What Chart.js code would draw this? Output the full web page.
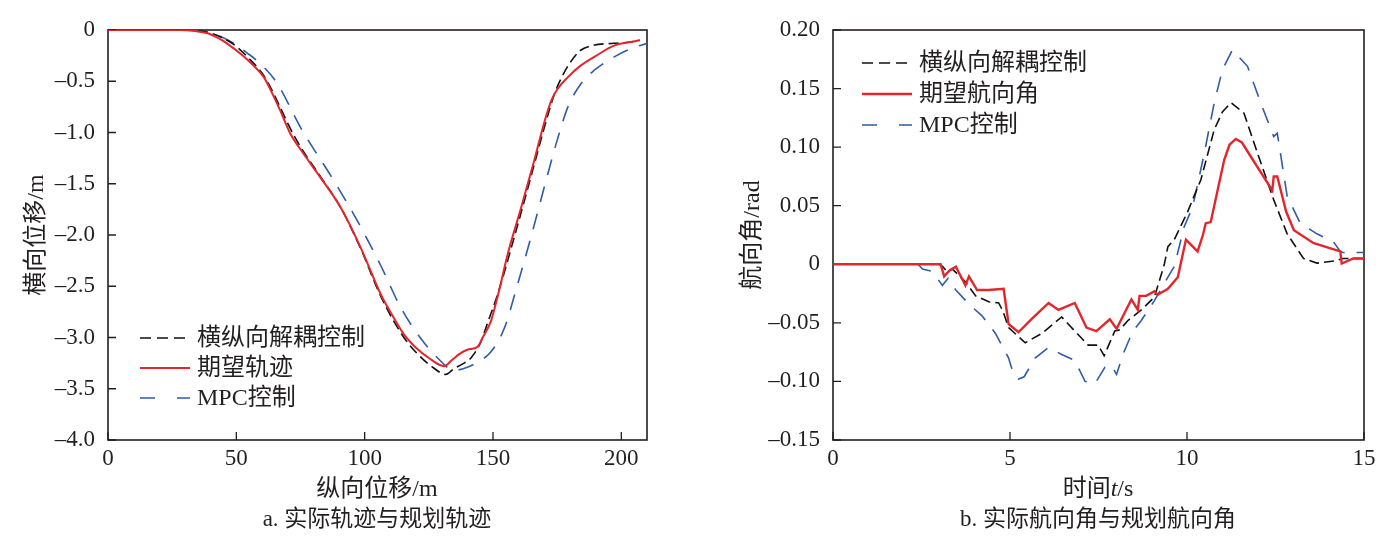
<!DOCTYPE html>
<html>
<head>
<meta charset="utf-8">
<script src="https://cdn.jsdelivr.net/npm/chart.js@4.4.1/dist/chart.umd.min.js"></script>
<style>
  body { margin: 0; background: #fff; width: 1391px; height: 543px; position: relative; overflow: hidden; }
  .box { position: absolute; top: 0; height: 543px; }
  .txt { position: absolute; font-family: "Liberation Serif", "Noto Sans CJK SC", serif; color: #231f20; white-space: nowrap; transform: translateX(-50%); }
</style>
</head>
<body>
<div class="box" style="left:0;width:700px"><canvas id="trackChart"></canvas></div>
<div class="box" style="left:700px;width:691px"><canvas id="headingChart"></canvas></div>
<div class="txt" style="left:377px;top:468px;font-size:24px">纵向位移/m</div>
<div class="txt" style="left:377px;top:499px;font-size:23px">a. 实际轨迹与规划轨迹</div>
<div class="txt" style="left:1098px;top:468px;font-size:24px">时间<i>t</i>/s</div>
<div class="txt" style="left:1098px;top:499px;font-size:23px">b. 实际航向角与规划航向角</div>
<script>
const SERIF = '"Liberation Serif", "Noto Sans CJK SC", serif';
const INK = '#231f20';

// 图a：轨迹 (纵向位移 m, 横向位移 m)
const trackX_dec = [0, 20, 30, 36, 40, 45, 50, 55, 60, 63.3, 67, 71, 75, 82.8, 90.6, 98.4, 106.3, 115.3, 121, 126, 131.6, 135, 138, 141.4, 145.3, 148, 151.8, 158.3, 166.1, 170, 174, 177, 180, 184, 189, 197, 203, 207.2];
const trackY_dec = [0, 0, 0, -0.01, -0.03, -0.08, -0.16, -0.28, -0.42, -0.56, -0.75, -0.96, -1.14, -1.43, -1.73, -2.13, -2.6, -3.0, -3.17, -3.28, -3.36, -3.3, -3.26, -3.2, -3.04, -2.85, -2.58, -2.02, -1.31, -0.95, -0.62, -0.45, -0.32, -0.2, -0.15, -0.13, -0.12, -0.10];

const trackX_ref = [0, 10, 20, 28, 34, 38.5, 43, 46.3, 52, 56, 60.7, 64.6, 67, 71, 76, 82.8, 90.6, 98.4, 106.3, 110, 115.3, 120, 125, 131, 134, 137, 140, 144, 146, 149.2, 152, 155.7, 161, 166.1, 170, 172.7, 175, 179.2, 184, 189.6, 197.4, 203, 207.2];
const trackY_ref = [0, 0, 0, 0, -0.01, -0.03, -0.08, -0.13, -0.24, -0.33, -0.46, -0.65, -0.78, -1.01, -1.2, -1.44, -1.73, -2.12, -2.58, -2.75, -2.97, -3.1, -3.2, -3.28, -3.22, -3.16, -3.12, -3.09, -3.0, -2.84, -2.58, -2.19, -1.73, -1.27, -0.9, -0.69, -0.58, -0.46, -0.35, -0.26, -0.15, -0.12, -0.10];

const trackX_mpc = [0, 20, 30, 36, 42.4, 49, 54, 59.4, 65.9, 75, 88, 97.1, 106.3, 114.1, 121.9, 128.4, 134.9, 140, 144, 149.2, 154.4, 159.6, 164.8, 171.4, 175.3, 179.2, 184.4, 189.6, 197.4, 204, 210];
const trackY_mpc = [0, 0, 0, -0.01, -0.05, -0.13, -0.22, -0.33, -0.52, -0.95, -1.47, -1.86, -2.3, -2.71, -3.01, -3.2, -3.32, -3.29, -3.24, -3.14, -2.91, -2.48, -2.02, -1.4, -1.05, -0.75, -0.52, -0.39, -0.26, -0.18, -0.13];

const trackXTicks = [0, 50, 100, 150, 200];
const trackYTicks = [-4, -3.5, -3, -2.5, -2, -1.5, -1, -0.5, 0];
const trackYLabels = ['–4.0', '–3.5', '–3.0', '–2.5', '–2.0', '–1.5', '–1.0', '–0.5', '0'];

// 图b：航向角 (时间 s, rad)
const headT_dec = [0, 1, 2, 3.0, 3.1, 3.23, 3.37, 3.74, 4.03, 4.40, 4.68, 4.8, 4.96, 5.43, 5.9, 6.46, 6.83, 7.21, 7.49, 7.66, 7.96, 8.1, 8.33, 8.71, 9.08, 9.36, 9.46, 9.64, 10.02, 10.39, 10.77, 11.0, 11.24, 11.61, 11.99, 12.45, 12.83, 13.29, 13.67, 14.2, 14.4, 15];
const headV_dec = [0, 0, 0, 0, -0.002, -0.0066, -0.004, -0.015, -0.027, -0.032, -0.033, -0.04, -0.054, -0.067, -0.059, -0.045, -0.057, -0.069, -0.069, -0.078, -0.057, -0.056, -0.048, -0.039, -0.028, 0.0, 0.015, 0.021, 0.045, 0.072, 0.115, 0.13, 0.138, 0.129, 0.095, 0.055, 0.026, 0.005, 0.001, 0.003, 0.005, 0.005];

const headT_ref = [0, 1, 2, 3.04, 3.14, 3.3, 3.47, 3.74, 3.84, 4.07, 4.40, 4.82, 4.96, 5.24, 5.6, 6.09, 6.37, 6.83, 7.16, 7.44, 7.82, 8.01, 8.43, 8.61, 8.66, 8.85, 9.08, 9.17, 9.46, 9.74, 9.97, 10.3, 10.45, 10.53, 10.67, 11.05, 11.2, 11.38, 11.55, 11.8, 12.41, 12.45, 12.55, 12.8, 13.02, 13.58, 14.33, 14.37, 14.7, 15];
const headV_ref = [0, 0, 0, 0, -0.0103, -0.005, -0.002, -0.018, -0.0103, -0.022, -0.022, -0.021, -0.051, -0.058, -0.047, -0.033, -0.039, -0.033, -0.054, -0.057, -0.047, -0.055, -0.030, -0.039, -0.027, -0.027, -0.023, -0.026, -0.021, -0.011, 0.021, 0.011, 0.025, 0.035, 0.036, 0.089, 0.102, 0.107, 0.104, 0.092, 0.063, 0.075, 0.075, 0.045, 0.029, 0.018, 0.011, 0.0006, 0.005, 0.005];

const headT_mpc = [0, 1, 2, 2.4, 2.53, 2.8, 3.09, 3.25, 3.47, 3.84, 4.21, 4.59, 4.96, 5.1, 5.24, 5.4, 5.71, 6.09, 6.46, 6.83, 7.12, 7.4, 7.68, 7.85, 8.01, 8.19, 8.47, 8.71, 9.08, 9.46, 9.64, 9.92, 10.16, 10.49, 10.77, 11.0, 11.28, 11.71, 12.08, 12.45, 12.55, 12.83, 13.2, 13.67, 14.14, 14.33, 14.4, 15];
const headV_mpc = [0, 0, 0, 0, -0.004, -0.006, -0.018, -0.012, -0.022, -0.034, -0.044, -0.059, -0.08, -0.094, -0.098, -0.096, -0.08, -0.071, -0.077, -0.082, -0.1, -0.102, -0.088, -0.086, -0.094, -0.077, -0.057, -0.048, -0.031, -0.011, -0.002, 0.032, 0.049, 0.095, 0.138, 0.166, 0.183, 0.169, 0.138, 0.109, 0.112, 0.058, 0.035, 0.026, 0.019, 0.011, 0.01, 0.01];

const headXTicks = [0, 5, 10, 15];
const headYTicks = [-0.15, -0.10, -0.05, 0, 0.05, 0.10, 0.15, 0.20];
const headYLabels = ['–0.15', '–0.10', '–0.05', '0', '0.05', '0.10', '0.15', '0.20'];

const pts = (xs, ys) => xs.map((x, i) => ({ x: x, y: ys[i] }));

// 框线 + 向内刻度
const frameTicks = {
  id: 'frameTicks',
  beforeDatasetsDraw(chart) {
    const { ctx, chartArea: a, scales } = chart;
    ctx.save();
    ctx.strokeStyle = INK;
    ctx.lineWidth = 1.6;
    ctx.strokeRect(a.left, a.top, a.right - a.left, a.bottom - a.top);
    ctx.lineWidth = 1.3;
    ctx.beginPath();
    scales.x.ticks.forEach(t => {
      const px = scales.x.getPixelForValue(t.value);
      ctx.moveTo(px, a.bottom); ctx.lineTo(px, a.bottom - 8);
    });
    scales.y.ticks.forEach(t => {
      const py = scales.y.getPixelForValue(t.value);
      ctx.moveTo(a.left, py); ctx.lineTo(a.left + 8, py);
    });
    ctx.stroke();
    ctx.restore();
  }
};

// 图内图例
const innerLegend = {
  id: 'innerLegend',
  afterDatasetsDraw(chart, args, opts) {
    const ctx = chart.ctx;
    ctx.save();
    chart.data.datasets.forEach((ds, i) => {
      const y = opts.y + i * opts.gap;
      ctx.beginPath();
      ctx.setLineDash(opts.dashes[i]);
      ctx.strokeStyle = ds.borderColor;
      ctx.lineWidth = ds.borderWidth;
      ctx.moveTo(opts.x, y);
      ctx.lineTo(opts.x + 50, y);
      ctx.stroke();
      ctx.setLineDash([]);
      ctx.fillStyle = INK;
      ctx.font = '24px ' + SERIF;
      ctx.textBaseline = 'middle';
      ctx.fillText(ds.label, opts.x + 57, y + 1);
    });
    ctx.restore();
  }
};

function makeChart(id, sets, xr, yr, axisW, titleY, titlePad, rightPad, legendPos, smooth) {
  return new Chart(document.getElementById(id), {
    type: 'line',
    data: { datasets: sets },
    options: {
      responsive: true,
      maintainAspectRatio: false,
      animation: false,
      layout: { padding: { top: 30, right: rightPad, bottom: 0, left: 0 } },
      elements: {
        point: { radius: 0 },
        line: { cubicInterpolationMode: smooth ? 'monotone' : 'default', tension: 0 }
      },
      scales: {
        x: {
          type: 'linear', min: xr.min, max: xr.max,
          grid: { display: false }, border: { display: false },
          afterBuildTicks: s => { s.ticks = xr.ticks.map(v => ({ value: v })); },
          afterFit: s => { s.height = 103; },
          ticks: { color: INK, padding: -3, maxRotation: 0, font: { family: SERIF, size: 23 } }
        },
        y: {
          type: 'linear', min: yr.min, max: yr.max,
          grid: { display: false }, border: { display: false },
          afterBuildTicks: s => { s.ticks = yr.ticks.map(v => ({ value: v })); },
          afterFit: s => { s.width = axisW; },
          ticks: {
            color: INK, padding: 5, font: { family: SERIF, size: 23 },
            callback: v => yr.labels[yr.ticks.indexOf(v)]
          },
          title: { display: true, text: titleY, color: INK, padding: { top: titlePad, bottom: 0 }, font: { family: SERIF, size: 24 } }
        }
      },
      plugins: {
        legend: { display: false },
        tooltip: { enabled: false },
        innerLegend: legendPos
      }
    },
    plugins: [frameTicks, innerLegend]
  });
}

const legendDashes = [[11, 6], [], [15, 22]];

makeChart('trackChart', [
  { label: '横纵向解耦控制', data: pts(trackX_dec, trackY_dec), borderColor: '#111111', borderWidth: 1.6, borderDash: [10, 5], order: 2 },
  { label: '期望轨迹', data: pts(trackX_ref, trackY_ref), borderColor: '#e2262c', borderWidth: 2, order: 1 },
  { label: 'MPC控制', data: pts(trackX_mpc, trackY_mpc), borderColor: '#2f5ca6', borderWidth: 1.6, borderDash: [16, 12], order: 3 }
], { min: 0, max: 210, ticks: trackXTicks },
   { min: -4, max: 0, ticks: trackYTicks, labels: trackYLabels },
   108, '横向位移/m', 22, 53,
   { x: 140, y: 338, gap: 30, dashes: legendDashes }, true);

makeChart('headingChart', [
  { label: '横纵向解耦控制', data: pts(headT_dec, headV_dec), borderColor: '#111111', borderWidth: 1.6, borderDash: [10, 5], order: 2 },
  { label: '期望航向角', data: pts(headT_ref, headV_ref), borderColor: '#e2262c', borderWidth: 2.4, order: 1 },
  { label: 'MPC控制', data: pts(headT_mpc, headV_mpc), borderColor: '#2f5ca6', borderWidth: 1.6, borderDash: [16, 12], order: 3 }
], { min: 0, max: 15, ticks: headXTicks },
   { min: -0.15, max: 0.20, ticks: headYTicks, labels: headYLabels },
   133, '航向角/rad', 38, 27,
   { x: 162, y: 63, gap: 31, dashes: legendDashes }, false);
</script>
</body>
</html>
